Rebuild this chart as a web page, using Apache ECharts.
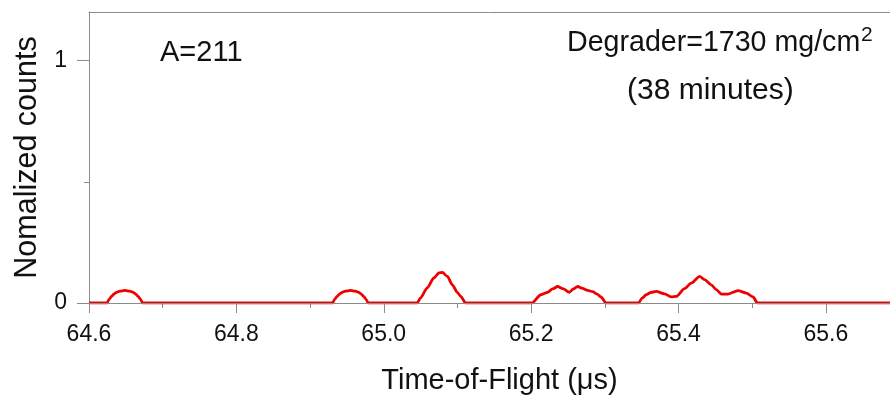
<!DOCTYPE html>
<html>
<head>
<meta charset="utf-8">
<script src="https://cdn.jsdelivr.net/npm/echarts@6/dist/echarts.min.js"></script>
<style>
html,body{margin:0;padding:0;background:#fff;}
#chart{width:890px;height:400px;}
</style>
</head>
<body>
<div id="chart"></div>
<script>
// Time-of-flight (µs) and normalized counts
const tof = [
  64.6000,
  64.6245, 64.6275, 64.6305, 64.6336, 64.6373, 64.6418, 64.6486, 64.6554, 64.6599, 64.6636, 64.6667, 64.6697, 64.6727,
  64.9306, 64.9336, 64.9366, 64.9397, 64.9434, 64.9479, 64.9547, 64.9615, 64.9660, 64.9697, 64.9728, 64.9758, 64.9788,
  65.0454, 65.0499, 65.0590, 65.0680, 65.0748, 65.0795, 65.0863, 65.0931, 65.0999, 65.1044, 65.1112,
  65.2010, 65.2132, 65.2223, 65.2291, 65.2359, 65.2438, 65.2517, 65.2574, 65.2631, 65.2699, 65.2767, 65.2835, 65.2894, 65.2948, 65.3016,
  65.3456, 65.3506, 65.3561, 65.3629, 65.3697, 65.3810, 65.3901, 65.3969, 65.4082, 65.4173, 65.4286, 65.4354, 65.4445, 65.4513, 65.4581, 65.4672, 65.4808, 65.4921, 65.5012, 65.5071,
  65.6870
];
const counts = [
  0,
  0, 0.016, 0.027, 0.036, 0.044, 0.049, 0.052, 0.049, 0.044, 0.036, 0.027, 0.016, 0,
  0, 0.016, 0.027, 0.036, 0.044, 0.049, 0.052, 0.049, 0.044, 0.036, 0.027, 0.016, 0,
  0, 0.021, 0.062, 0.103, 0.124, 0.126, 0.110, 0.075, 0.044, 0.027, 0,
  0, 0.034, 0.044, 0.058, 0.068, 0.058, 0.044, 0.058, 0.068, 0.060, 0.052, 0.047, 0.037, 0.025, 0,
  0, 0.020, 0.034, 0.044, 0.048, 0.038, 0.025, 0.027, 0.059, 0.082, 0.110, 0.096, 0.075, 0.055, 0.037, 0.037, 0.051, 0.041, 0.025, 0,
  0
];
const xTicks = [64.6, 64.8, 65.0, 65.2, 65.4, 65.6];
const xMinorTicks = [64.7, 64.9, 65.1, 65.3, 65.5];
const yTicks = [0, 1];
const yMinorTicks = [0.5];

const FONT = "'Liberation Sans', Arial, sans-serif";
const AX = '#8c8c8c';
const X_MIN = 64.6, X_MAX = 65.687, Y_MIN = 0, Y_MAX = 1.2;

const chart = echarts.init(document.getElementById('chart'), null, {renderer: 'canvas'});
chart.setOption({
  animation: false,
  backgroundColor: '#fff',
  grid: {left: 89, top: 12, right: 0, bottom: 97, containLabel: false},
  xAxis: [
    {
      type: 'value', min: X_MIN, max: X_MAX, position: 'bottom', z: 4,
      name: 'Time-of-Flight (\u03bcs)', nameLocation: 'middle', nameGap: 63,
      nameTextStyle: {fontFamily: FONT, fontSize: 29, color: '#111', padding: [0, 0, 0, 20]},
      axisLine: {show: true, lineStyle: {color: AX, width: 1}},
      axisTick: {show: true, customValues: xTicks, length: 10, inside: false, lineStyle: {color: AX}},
      axisLabel: {show: true, customValues: xTicks, margin: 20, fontFamily: FONT, fontSize: 23, color: '#111',
        formatter: v => Number(v).toFixed(1)},
      splitLine: {show: false}
    },
    {
      type: 'value', min: X_MIN, max: X_MAX, position: 'bottom', gridIndex: 0,
      axisLine: {show: false},
      axisTick: {show: true, customValues: xMinorTicks, length: 5, lineStyle: {color: AX}},
      axisLabel: {show: false},
      splitLine: {show: false}
    },
    {
      type: 'value', min: X_MIN, max: X_MAX, position: 'top',
      axisLine: {show: true, lineStyle: {color: AX, width: 1}},
      axisTick: {show: false}, axisLabel: {show: false}, splitLine: {show: false}
    }
  ],
  yAxis: [
    {
      type: 'value', min: Y_MIN, max: Y_MAX, position: 'left',
      name: 'Nomalized counts', nameLocation: 'middle', nameGap: 40, nameRotate: 90,
      nameTextStyle: {fontFamily: FONT, fontSize: 30.5, color: '#111'},
      axisLine: {show: true, lineStyle: {color: AX, width: 1}},
      axisTick: {show: true, customValues: yTicks, length: 12, lineStyle: {color: AX}},
      axisLabel: {show: true, customValues: yTicks, margin: 22, fontFamily: FONT, fontSize: 23, color: '#111'},
      splitLine: {show: false}
    },
    {
      type: 'value', min: Y_MIN, max: Y_MAX, position: 'left',
      axisLine: {show: false},
      axisTick: {show: true, customValues: yMinorTicks, length: 5, lineStyle: {color: AX}},
      axisLabel: {show: false}, splitLine: {show: false}
    }
  ],
  series: [{
    type: 'line',
    xAxisIndex: 0, yAxisIndex: 0,
    data: tof.map((t, i) => [t, counts[i]]),
    smooth: 0.25,
    smoothMonotone: 'x',
    showSymbol: false,
    symbol: 'none',
    z: 2,
    lineStyle: {color: '#ee0000', width: 2.8},
    clip: true
  }],
  graphic: [
    {type: 'text', left: 160, top: 38, z: 10,
      style: {text: 'A=211', font: "29px 'Liberation Sans', Arial, sans-serif", fill: '#111'}},
    {type: 'text', left: 567, top: 29, z: 10,
      style: {text: 'Degrader=1730 mg/cm', font: "28.6px 'Liberation Sans', Arial, sans-serif", fill: '#111'}},
    {type: 'text', left: 861, top: 25, z: 10,
      style: {text: '2', font: "21px 'Liberation Sans', Arial, sans-serif", fill: '#111'}},
    {type: 'text', left: 627, top: 76, z: 10,
      style: {text: '(38 minutes)', font: "30px 'Liberation Sans', Arial, sans-serif", fill: '#111'}}
  ]
});
</script>
</body>
</html>
